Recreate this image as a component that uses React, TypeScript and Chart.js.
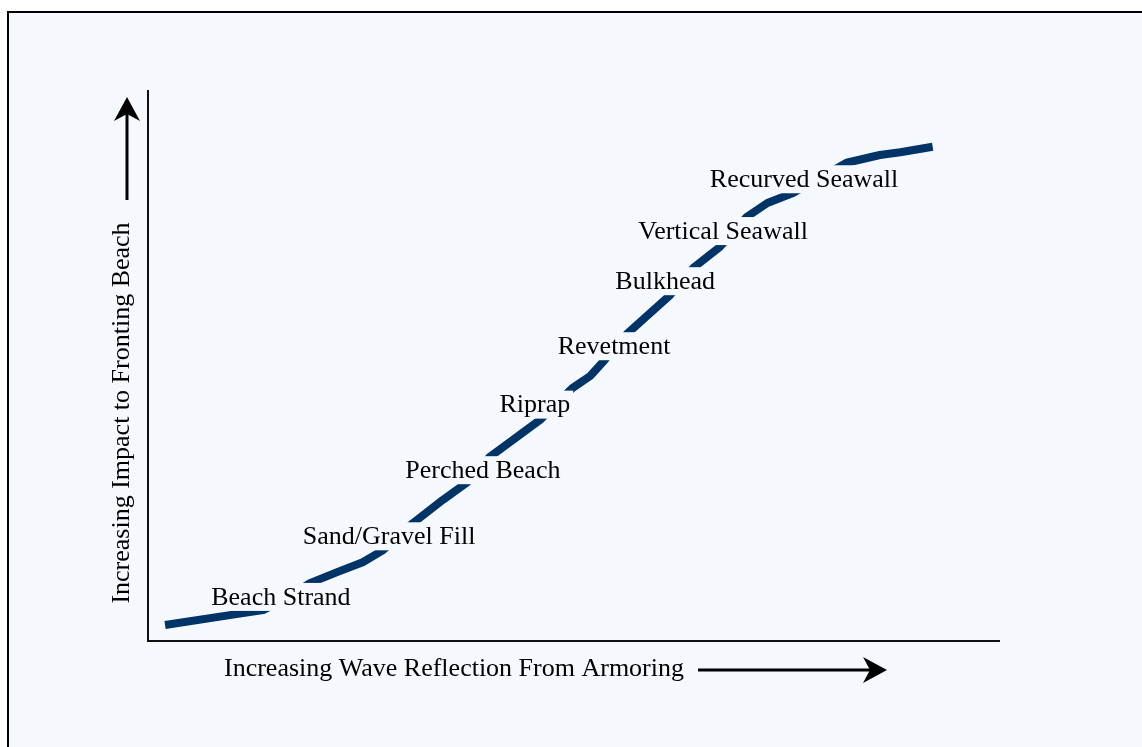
import React, { useEffect, useRef } from "react";
import { Chart, registerables } from "chart.js";

Chart.register(...registerables);

// Curve through the armoring types (x: wave reflection, y: impact to beach, 0-100 relative scale)
const curveX = [2.0, 9.6, 13.5, 16.1, 19.0, 22.2, 25.2, 27.6, 31.1, 34.6, 37.4, 40.1, 46.0, 49.8, 51.9, 53.6, 56.2, 61.3, 64.0, 67.1, 70.3, 72.7, 75.7, 82.0, 85.9, 88.3, 92.1];
const curveY = [2.9, 4.7, 5.6, 7.6, 10.5, 12.5, 14.3, 16.5, 21.4, 25.6, 28.7, 33.4, 40.1, 45.9, 48.1, 51.0, 55.7, 62.8, 67.7, 71.5, 77.0, 79.5, 81.3, 86.8, 88.2, 88.7, 89.7];

// Category labels placed along the curve
const categories = [
  "Beach Strand",
  "Sand/Gravel Fill",
  "Perched Beach",
  "Riprap",
  "Revetment",
  "Bulkhead",
  "Vertical Seawall",
  "Recurved Seawall",
];
const labelX = [15.6, 28.3, 39.3, 45.4, 54.7, 60.7, 67.5, 77.0];
const labelY = [8.0, 19.0, 31.0, 42.9, 53.5, 65.3, 74.4, 83.8];

const xTitle = "Increasing Wave Reflection From Armoring";
const yTitle = "Increasing Impact to Fronting Beach";

const BG = "#f5f9fe";
const FONT = "26px 'Liberation Serif', 'DejaVu Serif', serif";

function drawArrow(ctx: CanvasRenderingContext2D, x1: number, y1: number, x2: number, y2: number) {
  const ang = Math.atan2(y2 - y1, x2 - x1);
  const len = 24;
  const half = 13;
  const notch = 17;
  const cos = Math.cos(ang), sin = Math.sin(ang);
  ctx.save();
  ctx.strokeStyle = "#000";
  ctx.fillStyle = "#000";
  ctx.lineWidth = 3;
  ctx.beginPath();
  ctx.moveTo(x1, y1);
  ctx.lineTo(x2 - cos * notch, y2 - sin * notch);
  ctx.stroke();
  ctx.beginPath();
  ctx.moveTo(x2, y2);
  ctx.lineTo(x2 - cos * len - sin * half, y2 - sin * len + cos * half);
  ctx.lineTo(x2 - cos * notch, y2 - sin * notch);
  ctx.lineTo(x2 - cos * len + sin * half, y2 - sin * len - cos * half);
  ctx.closePath();
  ctx.fill();
  ctx.restore();
}

const decorPlugin = {
  id: "decor",
  beforeDatasetsDraw(chart: any) {
    const { ctx, chartArea } = chart;
    const { left, right, top, bottom } = chartArea;
    ctx.save();
    ctx.strokeStyle = "#111";
    ctx.lineWidth = 2;
    ctx.beginPath();
    ctx.moveTo(left, top);
    ctx.lineTo(left, bottom);
    ctx.lineTo(right, bottom);
    ctx.stroke();

    ctx.fillStyle = "#000";
    ctx.font = FONT;
    ctx.textAlign = "center";
    ctx.textBaseline = "middle";
    ctx.fillText(xTitle, 445, bottom + 28);
    ctx.save();
    ctx.translate(left - 26, 400);
    ctx.rotate(-Math.PI / 2);
    ctx.fillText(yTitle, 0, 0);
    ctx.restore();
    ctx.restore();

    drawArrow(ctx, 689, bottom + 29, 878, bottom + 29);
    drawArrow(ctx, left - 21, 187, left - 21, top + 7);
  },
  afterDatasetsDraw(chart: any) {
    const { ctx, scales } = chart;
    ctx.save();
    ctx.font = FONT;
    ctx.textAlign = "center";
    ctx.textBaseline = "middle";
    categories.forEach((name, i) => {
      const px = scales.x.getPixelForValue(labelX[i]);
      const py = scales.y.getPixelForValue(labelY[i]);
      const w = ctx.measureText(name).width + 6;
      const h = 28;
      ctx.fillStyle = BG;
      ctx.fillRect(px - w / 2, py - h / 2, w, h);
      ctx.fillStyle = "#000";
      ctx.fillText(name, px, py + 1);
    });
    ctx.restore();
  },
};

export default function App() {
  const canvasRef = useRef<HTMLCanvasElement | null>(null);

  useEffect(() => {
    document.body.style.overflow = "hidden";
    const canvas = canvasRef.current;
    if (!canvas) return;
    const chart = new Chart(canvas, {
      type: "line",
      data: {
        datasets: [
          {
            data: curveX.map((x, i) => ({ x, y: curveY[i] })),
            borderColor: "#003366",
            borderWidth: 8,
            pointRadius: 0,
            tension: 0,
            fill: false,
            borderCapStyle: "butt",
            borderJoinStyle: "round",
          },
        ],
      },
      options: {
        animation: false,
        responsive: false,
        maintainAspectRatio: false,
        layout: { padding: { left: 139, right: 142, top: 77, bottom: 106 } },
        plugins: { legend: { display: false }, tooltip: { enabled: false } },
        scales: {
          x: { type: "linear", min: 0, max: 100, display: false },
          y: { type: "linear", min: 0, max: 100, display: false },
        },
      },
      plugins: [decorPlugin],
    } as any);
    return () => chart.destroy();
  }, []);

  return (
    <div
      style={{
        position: "fixed",
        left: 7,
        top: 11,
        width: 1133,
        height: 734,
        borderLeft: "2px solid #000",
        borderTop: "2px solid #000",
        background: BG,
        overflow: "hidden",
      }}
    >
      <canvas ref={canvasRef} width={1133} height={734} style={{ display: "block" }} />
    </div>
  );
}
